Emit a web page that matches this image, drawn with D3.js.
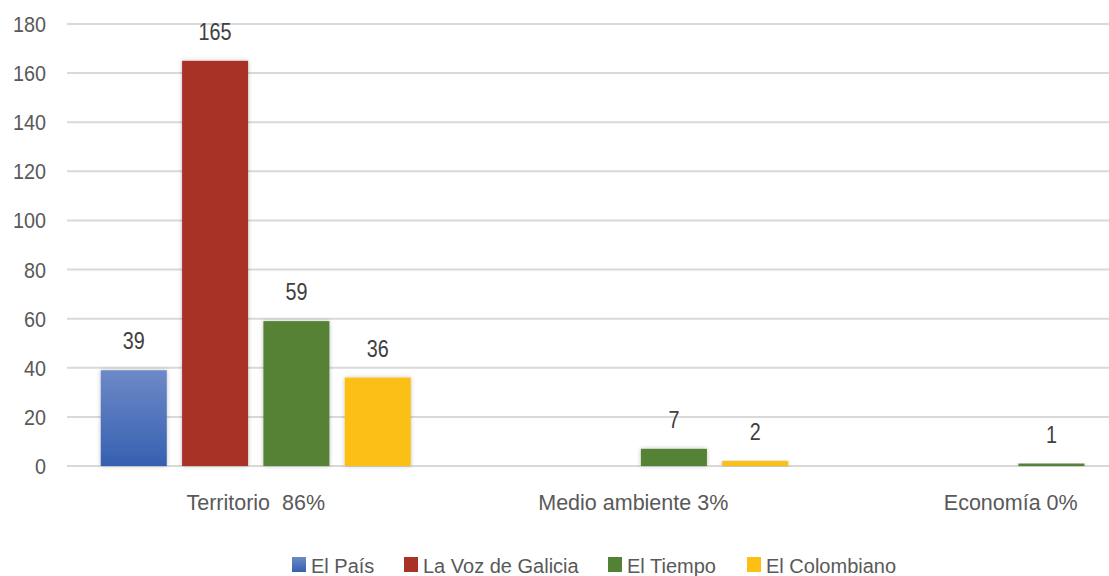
<!DOCTYPE html>
<html>
<head>
<meta charset="utf-8">
<script src="https://cdn.jsdelivr.net/npm/d3@7"></script>
<style>
  body { margin: 0; background: #fff; }
  svg { display: block; font-family: "Liberation Sans", Arial, sans-serif; }
</style>
</head>
<body>
<svg id="chart"></svg>
<script>
// chart data
const categories = ['Territorio  86%', 'Medio ambiente 3%', 'Economía 0%'];
const seriesNames = ['El País', 'La Voz de Galicia', 'El Tiempo', 'El Colombiano'];
const elPais = [39, null, null];
const laVoz = [165, null, null];
const elTiempo = [59, 7, 1];
const elColombiano = [36, 2, null];
const yTicks = [0, 20, 40, 60, 80, 100, 120, 140, 160, 180];

const colors = ['#4a6fbd', '#a93226', '#548235', '#fcbf12'];

const W = 1109, H = 576;
const y0 = 466;

const svg = d3.select('#chart').attr('width', W).attr('height', H);

// defs: gradient for blue + soft shadow
const defs = svg.append('defs');
const grad = defs.append('linearGradient').attr('id', 'blueGrad')
  .attr('x1', 0).attr('y1', 0).attr('x2', 0).attr('y2', 1);
grad.append('stop').attr('offset', '0%').attr('stop-color', '#6d89c8');
grad.append('stop').attr('offset', '100%').attr('stop-color', '#3660b0');
const shadow = defs.append('filter').attr('id', 'shadow')
  .attr('x', '-20%').attr('y', '-20%').attr('width', '140%').attr('height', '140%');
shadow.append('feDropShadow').attr('dx', 0).attr('dy', 0).attr('stdDeviation', 2)
  .attr('flood-color', '#000').attr('flood-opacity', 0.25);

const fills = ['url(#blueGrad)', colors[1], colors[2], colors[3]];

const y = d3.scaleLinear().domain([0, 180]).range([y0, 24]);
const x0 = d3.scaleBand().domain(categories).range([67, 67 + 3 * 377.5]).padding(0);
const x1 = d3.scaleBand().domain(seriesNames).range([0, x0.bandwidth()])
  .paddingInner(0.188).paddingOuter(0.415);

// gridlines
svg.append('g').selectAll('line').data(yTicks).join('line')
  .attr('x1', 67).attr('x2', W)
  .attr('y1', d => y(d)).attr('y2', d => y(d))
  .attr('stroke', '#d9d9d9').attr('stroke-width', 2);

// y labels
svg.append('g').selectAll('text').data(yTicks).join('text')
  .attr('x', 46).attr('y', d => y(d) + 8)
  .attr('text-anchor', 'end')
  .attr('fill', '#595959').style('font-size', '22px')
  .attr('textLength', d => String(d).length * 11).attr('lengthAdjust', 'spacingAndGlyphs')
  .text(d => d);

const rows = [elPais, laVoz, elTiempo, elColombiano];
const bars = [];
rows.forEach((vals, si) => {
  vals.forEach((v, ci) => {
    if (v != null) bars.push({ cat: categories[ci], series: seriesNames[si], si: si, value: v });
  });
});

svg.append('g').selectAll('rect').data(bars).join('rect')
  .attr('x', d => x0(d.cat) + x1(d.series))
  .attr('y', d => y(d.value))
  .attr('width', x1.bandwidth())
  .attr('height', d => y0 - y(d.value))
  .attr('fill', d => fills[d.si])
  .attr('filter', 'url(#shadow)');

svg.append('g').selectAll('text').data(bars).join('text')
  .attr('x', d => x0(d.cat) + x1(d.series) + x1.bandwidth() / 2)
  .attr('y', d => y(d.value) - 21)
  .attr('text-anchor', 'middle')
  .attr('fill', '#404040').style('font-size', '23px')
  .attr('textLength', d => String(d.value).length * 11).attr('lengthAdjust', 'spacingAndGlyphs')
  .text(d => d.value);

// category labels
svg.append('g').selectAll('text').data(categories).join('text')
  .attr('x', d => x0(d) + x0.bandwidth() / 2)
  .attr('y', 510)
  .attr('text-anchor', 'middle')
  .attr('fill', '#595959').style('font-size', '21.5px')
  .attr('xml:space', 'preserve')
  .text(d => d);

// legend
const legendX = [292, 404, 608, 747];
const legend = svg.append('g').selectAll('g').data(seriesNames).join('g')
  .attr('transform', (d, i) => `translate(${legendX[i]},557)`);
legend.append('rect').attr('width', 14).attr('height', 15)
  .attr('fill', (d, i) => fills[i]);
legend.append('text').attr('x', 19).attr('y', 16)
  .attr('fill', '#595959').style('font-size', '20px')
  .text(d => d);
</script>
</body>
</html>
